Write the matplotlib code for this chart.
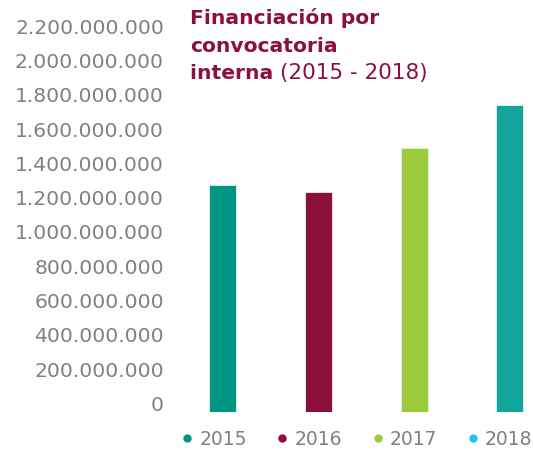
import matplotlib.pyplot as plt
import matplotlib.transforms as mtransforms
from matplotlib.lines import Line2D

years = ["2015", "2016", "2017", "2018"]
values = [1326000000, 1285000000, 1539000000, 1791000000]
bar_colors = ["#009684", "#8b0f3b", "#9bcb3d", "#12a59b"]
legend_colors = ["#009684", "#8b0f3b", "#9bcb3d", "#1ec5f2"]
yticks = list(range(0, 2200000001, 200000000))
title_color = "#8b1040"
grey = "#808080"

W, H = 533, 456
fig = plt.figure(figsize=(W / 100, H / 100), dpi=100)
ax_left, ax_right, ax_top, ax_bottom = 175, 533, 36, 413
ax = fig.add_axes([ax_left / W, 1 - ax_bottom / H,
                   (ax_right - ax_left) / W, (ax_bottom - ax_top) / H])

x = list(range(len(years)))
ax.bar(x, values, width=0.28, color=bar_colors, edgecolor="#e6f2ee", linewidth=0.6)
ax.set_xlim(-0.5, 3.243)
ax.set_ylim(0, 2200000000)

ax.set_yticks(yticks)
ax.set_yticklabels([f"{v:,}".replace(",", ".") for v in yticks])
ax.set_xticks([])
ax.tick_params(axis="y", length=0, pad=8, labelsize=14.6, labelcolor=grey)
shift = mtransforms.ScaledTranslation(0, 7 / 72, fig.dpi_scale_trans)
for lab in ax.get_yticklabels():
    lab.set_transform(lab.get_transform() + shift)
for s in ax.spines.values():
    s.set_visible(False)

# title
fs = 14.6
fig.text(190 / W, 1 - 18 / H, "Financiación por", color=title_color,
         fontsize=fs, fontweight="bold", va="center", ha="left")
fig.text(190 / W, 1 - 46 / H, "convocatoria", color=title_color,
         fontsize=fs, fontweight="bold", va="center", ha="left")
t3 = fig.text(190 / W, 1 - 74 / H, "interna ", color=title_color,
              fontsize=fs, fontweight="bold", va="center", ha="left")
fig.canvas.draw()
ax.annotate("(2015 - 2018)", xy=(1, 0), xycoords=t3, va="bottom", ha="left",
            color=title_color, fontsize=15.5)

handles = [Line2D([], [], marker="o", linestyle="none", markersize=5,
                  color=c) for c in legend_colors]
fig.legend(handles, years, loc="center", bbox_to_anchor=(357 / W, 1 - 440 / H),
           ncol=4, frameon=False, fontsize=13.5, labelcolor=grey,
           handlelength=0.6, handletextpad=0.35, columnspacing=1.6,
           borderpad=0)

fig.savefig("out.png", dpi=100)
